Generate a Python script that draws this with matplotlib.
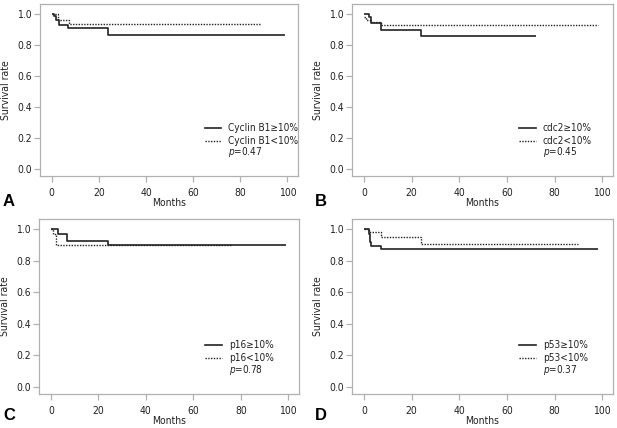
import matplotlib
matplotlib.use("Agg")
import matplotlib.pyplot as plt

plt.rcParams['font.family'] = ['DejaVu Sans']
plt.rcParams['font.stretch'] = 'condensed'
plt.rcParams['mathtext.fontset'] = 'custom'
plt.rcParams['mathtext.it'] = 'DejaVu Sans:italic'
plt.rcParams['mathtext.rm'] = 'DejaVu Sans'

# Panel A: Cyclin B1
a_hi_t = [0, 1, 2, 3, 7, 24, 99]
a_hi_s = [1.0, 0.985, 0.96, 0.931, 0.913, 0.866, 0.866]
a_lo_t = [0, 2.5, 7.3, 89]
a_lo_s = [1.0, 0.964, 0.934, 0.934]
# Panel B: cdc2
b_hi_t = [0, 2, 3, 7, 24, 72]
b_hi_s = [1.0, 0.98, 0.94, 0.90, 0.86, 0.86]
b_lo_t = [0, 1, 3, 7, 98]
b_lo_s = [0.98, 0.96, 0.95, 0.927, 0.927]
# Panel C: p16
c_hi_t = [0, 3, 7, 24, 99]
c_hi_s = [1.0, 0.967, 0.927, 0.897, 0.897]
c_lo_t = [0, 1, 2, 76]
c_lo_s = [1.0, 0.967, 0.897, 0.897]
# Panel D: p53
d_hi_t = [0, 2, 2.5, 3, 7, 98]
d_hi_s = [1.0, 0.97, 0.92, 0.895, 0.875, 0.875]
d_lo_t = [0, 2, 7, 24, 90]
d_lo_s = [1.0, 0.985, 0.949, 0.906, 0.906]

panels = [
    ("A", "Cyclin B1", "0.47", a_hi_t, a_hi_s, a_lo_t, a_lo_s),
    ("B", "cdc2", "0.45", b_hi_t, b_hi_s, b_lo_t, b_lo_s),
    ("C", "p16", "0.78", c_hi_t, c_hi_s, c_lo_t, c_lo_s),
    ("D", "p53", "0.37", d_hi_t, d_hi_s, d_lo_t, d_lo_s),
]

W, H = 617, 428
fig = plt.figure(figsize=(W / 100, H / 100), dpi=100)

boxes = [(40, 4, 298, 176), (352, 4, 613, 176), (39, 219, 299, 394), (352, 219, 613, 394)]
letter_pos = [(3, 202), (315, 202), (3, 416), (315, 416)]

xticks = [0, 20, 40, 60, 80, 100]
yticks = [0.0, 0.2, 0.4, 0.6, 0.8, 1.0]
spine_col = '#b0b0b0'
fs = 7.5
lfs = 7.2

for (letter, name, pval, ht, hs, lt, ls), (x0, y0, x1, y1), (lx, ly) in zip(panels, boxes, letter_pos):
    ax = fig.add_axes([x0 / W, 1 - y1 / H, (x1 - x0) / W, (y1 - y0) / H])
    ax.plot(ht, hs, drawstyle='steps-post', color='#222222', lw=1.2, solid_capstyle='butt')
    ax.plot(lt, ls, drawstyle='steps-post', color='#222222', lw=1.0, linestyle=(0, (1, 1)))
    ax.set_xlim(-5, 104.5)
    ax.set_ylim(-0.047, 1.065)
    ax.set_xticks(xticks)
    ax.set_yticks(yticks)
    ax.set_yticklabels([f"{v:.1f}" for v in yticks])
    for s in ax.spines.values():
        s.set_color(spine_col)
        s.set_linewidth(0.9)
    ax.tick_params(axis='both', colors=spine_col, labelcolor='#222222', labelsize=fs,
                   length=4, width=0.9)
    ax.tick_params(axis='x', pad=4.5)
    ax.tick_params(axis='y', pad=2)
    ax.set_xlabel("Months", fontsize=fs, labelpad=0, color='#222222')
    ax.set_ylabel("Survival rate", fontsize=fs, labelpad=4, color='#222222')
    # legend
    ax.plot([65, 72], [0.263, 0.263], color='#222222', lw=1.2)
    ax.plot([65, 72], [0.18, 0.18], color='#222222', lw=1.0, linestyle=(0, (1, 1)))
    ax.text(75, 0.263, f"{name}\u226510%", fontsize=lfs, va='center', ha='left', color='#222222')
    ax.text(75, 0.18, f"{name}<10%", fontsize=lfs, va='center', ha='left', color='#222222')
    ax.text(75, 0.105, "$p$=" + pval, fontsize=lfs, va='center', ha='left', color='#222222')
    fig.text(lx / W, 1 - ly / H, letter, fontsize=12, fontweight='bold', ha='left', va='center',
             family=['Liberation Sans', 'DejaVu Sans'], fontstretch='normal')

fig.savefig("out.png", dpi=100)
